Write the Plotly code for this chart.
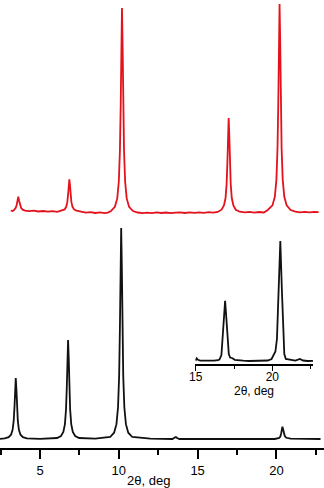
import plotly.graph_objects as go

# ---- main pattern, lower (black) ----
black_x = [2.46, 2.76, 3.01, 3.16, 3.26, 3.33, 3.38, 3.42, 3.46, 3.50, 3.54, 3.59, 3.66, 3.76, 3.91, 4.16,
           5.0, 6.08, 6.33, 6.48, 6.58, 6.65, 6.70, 6.74, 6.78, 6.82, 6.86, 6.91, 6.98, 7.08, 7.23, 7.48,
           8.5, 9.45, 9.70, 9.85, 9.95, 10.02, 10.07, 10.11, 10.15, 10.19, 10.23, 10.28, 10.35, 10.45, 10.60, 10.85,
           12.0, 13.4, 13.55, 13.62, 13.7, 13.85, 16.0, 19.9, 20.18, 20.25, 20.30, 20.34, 20.38, 20.42, 20.46,
           20.53, 20.63, 20.9, 22.8]
black_y = [9.2, 9.6, 10.8, 13.3, 18.2, 27.3, 41.3, 59.0, 70.0, 59.0, 41.3, 27.3, 18.2, 13.3, 10.8, 9.6,
           9.2, 10.0, 12.0, 16.0, 23.9, 38.7, 61.5, 90.2, 108.0, 90.2, 61.5, 38.7, 23.9, 16.0, 12.0, 10.0,
           9.3, 11.0, 15.3, 23.8, 40.7, 72.3, 120.8, 182.0, 220.0, 182.0, 120.8, 72.3, 40.7, 23.8, 15.3, 11.0,
           9.3, 9.0, 10.5, 11.0, 10.0, 9.0, 9.0, 9.0, 10.0, 11.5, 14.5, 19.0, 21.3, 19.0, 15.0,
           12.0, 10.2, 9.3, 9.0]

# ---- main pattern, upper (red) ----
red_x = [3.14, 3.25, 3.35, 3.45, 3.52, 3.57, 3.62, 3.67, 3.72, 3.80, 3.90, 4.05,
         4.3, 4.6, 4.9, 5.2, 5.5, 5.8, 6.1,
         6.16, 6.41, 6.56, 6.66, 6.73, 6.78, 6.82, 6.86, 6.90, 6.94, 6.99, 7.06, 7.16, 7.31, 7.56,
         7.9, 8.2, 8.5, 8.8, 9.1, 9.3,
         9.5, 9.75, 9.9, 10.0, 10.07, 10.12, 10.16, 10.2, 10.24, 10.28, 10.33, 10.4, 10.5, 10.65, 10.9,
         11.2, 11.5, 11.8, 12.1, 12.4, 12.7, 13.0, 13.3, 13.6, 13.9, 14.2, 14.5, 14.8, 15.1, 15.4, 15.7, 16.0,
         16.27, 16.52, 16.67, 16.77, 16.84, 16.89, 16.93, 16.97, 17.01, 17.05, 17.10, 17.17, 17.27, 17.42, 17.67,
         18.0, 18.3, 18.6, 18.9, 19.2,
         19.45, 19.75, 19.9, 20.0, 20.07, 20.12, 20.16, 20.2, 20.24, 20.28, 20.33, 20.4, 20.5, 20.65, 20.9,
         21.2, 21.5, 21.8, 22.1, 22.4, 22.68]
red_y = [237.5, 237.0, 238.0, 240.0, 243.0, 247.5, 251.3, 247.5, 243.0, 240.0, 238.3, 237.4,
         236.8, 237.3, 236.5, 237.0, 236.3, 236.8, 236.2,
         236.5, 237.3, 238.6, 241.2, 245.8, 253.3, 262.8, 268.7, 262.8, 253.3, 245.8, 241.2, 238.6, 237.3, 236.5,
         235.3, 235.8, 235.0, 235.6, 234.9, 235.4,
         237.0, 241.2, 249.6, 266.5, 297.5, 343.6, 403.0, 440.0, 403.0, 343.6, 297.5, 266.5, 249.6, 241.2, 237.0,
         235.5, 234.8, 235.4, 234.9, 235.6, 235.0, 235.5, 234.8, 235.3, 235.7, 235.0, 235.6, 235.1, 235.7, 235.2, 235.9, 235.4,
         236.0, 238.3, 242.5, 249.7, 263.9, 285.6, 313.0, 330.0, 313.0, 285.6, 263.9, 249.7, 242.5, 238.3, 236.3,
         235.6, 236.1, 235.4, 236.0, 235.5,
         238.0, 242.6, 251.2, 268.4, 299.8, 346.2, 406.6, 444.0, 406.6, 346.2, 299.8, 268.4, 251.2, 242.6, 238.0,
         236.4, 235.7, 236.2, 235.6, 236.1, 235.8]

# ---- inset ----
inset_x = [15.0, 15.07, 15.15, 15.3, 15.6, 15.9, 16.2, 16.45, 16.55, 16.68, 16.76, 16.84, 16.92, 17.0, 17.08,
           17.16, 17.25, 17.4, 17.55, 17.8, 18.1, 18.5, 18.9, 19.3, 19.7, 19.95, 20.1, 20.2, 20.3, 20.4,
           20.52, 20.62, 20.7, 20.78, 20.88, 21.2, 21.5, 21.8, 22.0, 22.3, 22.65]
inset_y = [3.5, 5.7, 4.2, 3.4, 3.3, 3.0, 3.3, 3.8, 4.5, 9.0, 27.0, 45.0, 63.3, 46.0, 28.0,
           10.0, 6.5, 5.8, 4.2, 3.6, 3.3, 3.0, 3.3, 3.0, 3.5, 5.0, 9.0, 12.5, 25.0, 70.0,
           123.0, 75.0, 30.0, 10.0, 5.0, 3.8, 3.4, 5.0, 3.5, 3.0, 3.2]

main_ticks = [5, 10, 15, 20]
inset_ticks = [15, 20]
axis_title = "2θ, deg"

FONT = "Liberation Sans, Arial, sans-serif"

fig = go.Figure()
fig.add_trace(go.Scatter(x=black_x, y=black_y, mode="lines",
                         line=dict(color="#111111", width=1.8), xaxis="x", yaxis="y"))
fig.add_trace(go.Scatter(x=red_x, y=red_y, mode="lines",
                         line=dict(color="#e3121b", width=1.8), xaxis="x", yaxis="y"))
fig.add_trace(go.Scatter(x=inset_x, y=inset_y, mode="lines",
                         line=dict(color="#111111", width=1.8), xaxis="x2", yaxis="y2"))

fig.update_layout(
    width=324, height=488,
    margin=dict(l=0, r=0, t=0, b=40, autoexpand=False),
    paper_bgcolor="white", plot_bgcolor="rgba(0,0,0,0)",
    showlegend=False,
    font=dict(family=FONT, color="black"),
    xaxis=dict(domain=[0, 1], range=[2.46, 23.02], anchor="y", automargin=False,
               showline=True, linewidth=2, linecolor="black",
               ticks="outside", ticklen=9, tickwidth=1.5, tickcolor="black",
               tickvals=main_ticks, ticktext=[str(t) for t in main_ticks],
               minor=dict(ticks="outside", ticklen=5, tickwidth=1.5, tickcolor="black",
                          tickvals=[2.5, 7.5, 12.5, 17.5, 22.5]),
               showgrid=False, zeroline=False, tickfont=dict(size=13, family=FONT)),
    yaxis=dict(domain=[0, 1], range=[0, 448], visible=False, fixedrange=True, automargin=False),
    xaxis2=dict(domain=[0.6025, 0.966], range=[14.97, 22.65], anchor="y2", automargin=False,
                showline=True, linewidth=1.5, linecolor="black",
                ticks="outside", ticklen=5, tickwidth=1.2, tickcolor="black",
                tickvals=inset_ticks, ticktext=[str(t) for t in inset_ticks],
                ticklabelstandoff=-4,
                minor=dict(ticks="outside", ticklen=3, tickwidth=1.2, tickcolor="black",
                           tickvals=[17.5, 22.5]),
                showgrid=False, zeroline=False, tickfont=dict(size=12, family=FONT)),
    yaxis2=dict(domain=[0.1875, 0.46875], range=[0, 126], anchor="x2", visible=False, automargin=False),
    annotations=[
        dict(text=axis_title, xref="paper", yref="paper", x=0.457, y=-0.0725,
             xanchor="center", yanchor="middle", showarrow=False, font=dict(size=13, family=FONT)),
        dict(text=axis_title, xref="paper", yref="paper", x=0.784, y=0.128,
             xanchor="center", yanchor="middle", showarrow=False, font=dict(size=12, family=FONT)),
    ],
)

fig.write_html("out.html")
